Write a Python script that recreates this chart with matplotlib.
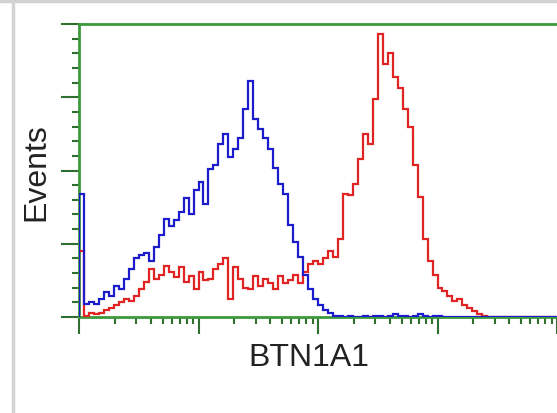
import numpy as np
import matplotlib
matplotlib.use("Agg")
import matplotlib.pyplot as plt
from matplotlib.ticker import MultipleLocator, LogLocator, NullFormatter

plt.rcParams['font.family'] = ['Liberation Sans', 'DejaVu Sans']

# histogram counts, 24 channels per decade, 4 decades (1 .. 10^4)
blue_counts = [84, 9, 10, 9, 12, 17, 14, 21, 19, 26, 33, 40, 42, 44, 38, 48,
               56, 67, 62, 66, 72, 81, 70, 87, 92, 77, 101, 104, 118, 125, 109, 115,
               122, 142, 161, 135, 128, 122, 115, 102, 91, 84, 63, 51, 41, 29, 19, 12,
               8, 5, 3, 1, 1, 0, 1, 0, 0, 1, 0, 1, 1, 0, 1, 2,
               1, 1, 0, 1, 2, 1, 0, 1, 1, 0, 0, 0, 0, 0, 0, 0,
               0, 0, 0, 0, 0, 0, 0, 0, 0, 0, 0, 0, 0, 0, 0, 0]
red_counts = [45, 1, 3, 2, 3, 5, 6, 8, 10, 12, 11, 14, 19, 24, 33, 26,
              29, 35, 31, 27, 34, 24, 28, 19, 31, 25, 26, 33, 36, 40, 12, 34,
              26, 20, 19, 28, 21, 26, 23, 19, 28, 23, 25, 29, 23, 31, 36, 38,
              36, 40, 45, 41, 53, 84, 83, 91, 108, 125, 118, 149, 193, 173, 180, 164,
              156, 142, 130, 104, 82, 53, 38, 29, 20, 18, 14, 11, 12, 8, 6, 4,
              2, 1, 0, 0, 0, 0, 0, 0, 0, 0, 0, 0, 0, 0, 0, 0]

x_label = "BTN1A1"
y_label = "Events"

edges = 10 ** (np.arange(len(red_counts) + 1) / 24)

fig = plt.figure(figsize=(5.57, 4.14), dpi=100)
fig.patch.set_facecolor('white')

# grey frame of the screenshot
fig.add_artist(plt.Line2D([13 / 557, 13 / 557], [0, 1], color='#d2d2d2', lw=2.5))
fig.add_artist(plt.Line2D([0, 1], [1 - 1.5 / 414, 1 - 1.5 / 414], color='#d2d2d2', lw=2.5))

ax = fig.add_axes([79 / 557, 96 / 414, 478 / 557, 293 / 414])
ax.stairs(red_counts, edges, color='#e02424', lw=1.6, zorder=3)
ax.stairs(blue_counts, edges, color='#1c1ccc', lw=1.6, zorder=4)

ax.set_xscale('log')
ax.set_xlim(1, 1e4)
ax.set_ylim(0, 200)

green = '#3c9a3c'
for s in ['top', 'left', 'bottom']:
    ax.spines[s].set_color(green)
    ax.spines[s].set_linewidth(2)
ax.spines['right'].set_visible(False)

ax.yaxis.set_major_locator(MultipleLocator(50))
ax.yaxis.set_minor_locator(MultipleLocator(10))
ax.xaxis.set_major_locator(LogLocator(base=10, numticks=10))
ax.xaxis.set_minor_locator(LogLocator(base=10, subs=np.arange(2, 10), numticks=20))
ax.xaxis.set_major_formatter(NullFormatter())
ax.xaxis.set_minor_formatter(NullFormatter())
ax.yaxis.set_major_formatter(NullFormatter())
ax.tick_params(axis='y', which='major', direction='out', length=13, width=1.5, color='#2f6f2f')
ax.tick_params(axis='y', which='minor', direction='out', length=5, width=1.5, color='#2f6f2f')
ax.tick_params(axis='x', which='major', direction='out', length=12, width=1.5, color='#2f6f2f')
ax.tick_params(axis='x', which='minor', direction='out', length=5, width=1.5, color='#2f6f2f')

fig.text(36 / 557, 1 - 172 / 414, y_label, rotation=90, ha='center', va='center',
         fontsize=23, color='#222222')
fig.text(309 / 557, 1 - 358 / 414, x_label, ha='center', va='center',
         fontsize=23, color='#222222')

fig.savefig('out.png', dpi=100, facecolor='white')
